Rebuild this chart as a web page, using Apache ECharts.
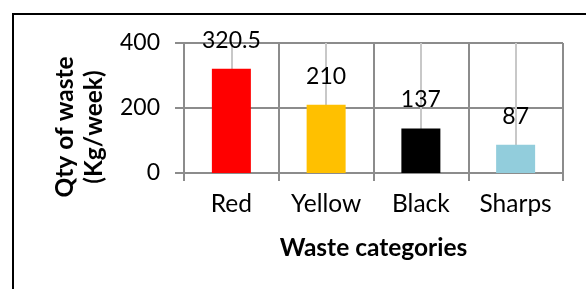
<!DOCTYPE html>
<html lang="en">
<head>
    <meta charset="UTF-8">
    <title>Waste</title>
    <style>
        html, body { margin: 0; padding: 0; background: #fff; }
        #chart { width: 586px; height: 289px; }
    </style>
    <script src="https://cdn.jsdelivr.net/npm/echarts@6/dist/echarts.min.js"></script>
</head>
<body>
    <div id="chart"></div>
    <script>
        // data
        var categories = ['Red', 'Yellow', 'Black', 'Sharps'];
        var qty = [320.5, 210, 137, 87];
        var barColors = ['#ff0000', '#ffc000', '#000000', '#92cddc'];
        var yTicks = [0, 200, 400];

        var font = 'Lato';
        var inst = echarts.init(document.getElementById('chart'));

        var opt = {
            animation: false,
            grid: { left: 184, right: 23, top: 43, bottom: 116 },
            graphic: [{
                type: 'rect',
                shape: { x: 13, y: 14, width: 620, height: 320 },
                style: { fill: 'none', stroke: '#000', lineWidth: 2 },
                silent: true
            }],
            xAxis: [{
                type: 'category',
                data: categories,
                z: 1,
                axisLine: { lineStyle: { color: '#8c8c8c', width: 2 } },
                axisTick: { show: true, length: 8, lineStyle: { color: '#8c8c8c', width: 2 } },
                splitLine: { show: true, lineStyle: { color: '#8c8c8c', width: 2 } },
                axisLabel: { color: '#000', fontFamily: font, fontSize: 24.5, margin: 19 },
                name: 'Waste categories',
                nameLocation: 'middle',
                nameGap: 63,
                nameTextStyle: { color: '#000', fontFamily: font, fontSize: 24.5, fontWeight: 'bold' }
            }, {
                // only draws the light line through each category centre
                type: 'value',
                min: 0, max: 8, interval: 1,
                show: true,
                axisLine: { show: false }, axisTick: { show: false }, axisLabel: { show: false },
                splitLine: { show: true, lineStyle: { color: '#c8c8c8', width: 2 } }
            }],
            yAxis: {
                type: 'value',
                min: yTicks[0], max: yTicks[yTicks.length - 1], interval: 200,
                axisLine: { show: true, lineStyle: { color: '#8c8c8c', width: 2 } },
                axisTick: { show: true, length: 9, lineStyle: { color: '#8c8c8c', width: 2 } },
                splitLine: { show: true, lineStyle: { color: '#8c8c8c', width: 2 } },
                axisLabel: { color: '#000', fontFamily: font, fontSize: 23, margin: 24 },
                name: 'Qty of waste\n(Kg/week)',
                nameLocation: 'middle',
                nameGap: 69,
                nameTextStyle: {
                    color: '#000', fontFamily: font, fontSize: 24.5, fontWeight: 'bold',
                    lineHeight: 29, padding: [0, 38, 0, 0]
                }
            },
            series: [{
                type: 'bar',
                xAxisIndex: 0,
                barWidth: 39,
                z: 2,
                data: qty.map(function (v, i) {
                    return { value: v, itemStyle: { color: barColors[i] } };
                }),
                label: {
                    show: true, position: 'top', distance: 17,
                    color: '#000', fontFamily: font, fontSize: 23
                }
            }]
        };
        inst.setOption(opt);
    </script>
</body>
</html>
